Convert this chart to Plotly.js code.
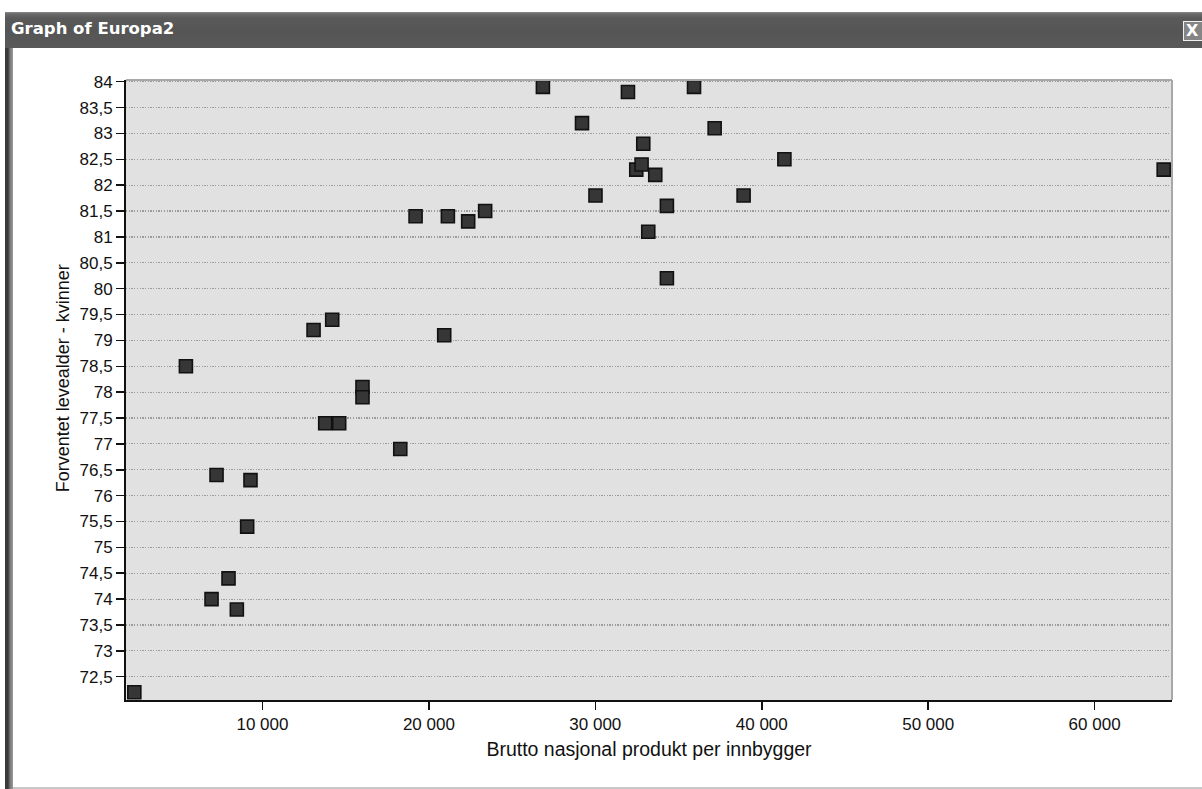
<!DOCTYPE html>
<html>
<head>
<meta charset="utf-8">
<script src="https://cdn.plot.ly/plotly-3.0.1.min.js"></script>
<style>
html,body{margin:0;padding:0;background:#fff;width:1202px;height:789px;overflow:hidden;}
#titlebar{position:absolute;left:5px;top:12px;width:1197px;height:36px;
  background:linear-gradient(#8a8a8a 0px,#6a6a6a 2px,#5a5a5a 6px,#555 50%,#595959 100%);}
#titletext{position:absolute;left:6px;top:7px;color:#fff;font-family:"DejaVu Sans";font-weight:bold;font-size:16.5px;}
#closebtn{position:absolute;left:1183px;top:21px;width:22px;height:18px;border:1.5px solid #f2f2f2;background:#858585;
  color:#fff;font-family:"DejaVu Sans";font-weight:bold;font-size:16px;line-height:18px;text-align:left;padding-left:2px;box-sizing:content-box;}
#leftborder{position:absolute;left:5px;top:48px;width:8px;height:741px;
  background:linear-gradient(90deg,#3a3a3a 0px,#3a3a3a 3px,#777 5px,#9a9a9a 8px);}
#bottomline{position:absolute;left:13px;top:787px;width:1189px;height:2px;background:#c8c8c8;}
#plot{position:absolute;left:0;top:0;width:1202px;height:789px;}
</style>
</head>
<body>
<div id="titlebar"><div id="titletext">Graph of Europa2</div></div>
<div id="closebtn">X</div>
<div id="leftborder"></div>
<div id="bottomline"></div>
<div id="plot"></div>
<script>
// GDP per capita (x) and female life expectancy (y)
const gdp = [2300, 5400, 7240, 6940, 7960, 8460, 9080, 9280, 13070, 14190, 13770, 14610,
  16010, 16010, 18280, 19200, 20920, 21140, 22360, 23380, 26850, 29200, 30010, 31960,
  32460, 32780, 32880, 33180, 33600, 34300, 34300, 35930, 37170, 38910, 41360, 64150];
const lifeExpWomen = [72.2, 78.5, 76.4, 74.0, 74.4, 73.8, 75.4, 76.3, 79.2, 79.4, 77.4, 77.4,
  78.1, 77.9, 76.9, 81.4, 79.1, 81.4, 81.3, 81.5, 83.9, 83.2, 81.8, 83.8,
  82.3, 82.4, 82.8, 81.1, 82.2, 81.6, 80.2, 83.9, 83.1, 81.8, 82.5, 82.3];
const xTickVals = [10000, 20000, 30000, 40000, 50000, 60000];
const yTickVals = [72.5, 73, 73.5, 74, 74.5, 75, 75.5, 76, 76.5, 77, 77.5, 78, 78.5, 79, 79.5,
  80, 80.5, 81, 81.5, 82, 82.5, 83, 83.5, 84];
const xTitle = "Brutto nasjonal produkt per innbygger";
const yTitle = "Forventet levealder - kvinner";

const trace = {
  x: gdp, y: lifeExpWomen, type: 'scatter', mode: 'markers', cliponaxis: false,
  marker: {symbol: 'square', size: 13, color: '#363636', line: {color: '#111', width: 1.6}},
  hoverinfo: 'x+y'
};
const font = {family: '"Liberation Sans", Arial, sans-serif', size: 17, color: '#111'};
const layout = {
  width: 1202, height: 789,
  margin: {l: 126, r: 30, t: 80, b: 89, pad: 0},
  paper_bgcolor: 'rgba(0,0,0,0)', plot_bgcolor: '#e1e1e1',
  separators: ', ',
  font: font,
  showlegend: false,
  xaxis: {
    range: [1800, 64650], tickvals: xTickVals, tickformat: ',d',
    showgrid: false, zeroline: false,
    showline: true, linecolor: '#111', linewidth: 2,
    ticks: 'outside', ticklen: 8, tickwidth: 1.5, tickcolor: '#111',
    tickfont: font,
    title: {text: xTitle, font: {family: font.family, size: 19.5, color: '#111'}, standoff: 9}
  },
  yaxis: {
    range: [72.05, 84.033], tickvals: yTickVals,
    showgrid: true, gridcolor: '#9c9c9c', gridwidth: 1.2, griddash: '1.3px,1.4px',
    zeroline: false,
    showline: true, linecolor: '#111', linewidth: 2,
    ticks: 'outside', ticklen: 8, tickwidth: 1.5, tickcolor: '#111',
    tickfont: font
  },
  annotations: [
    {text: yTitle, xref: 'paper', yref: 'paper', x: -0.0602, y: 0.519, textangle: -90,
     showarrow: false, xanchor: 'center', yanchor: 'middle',
     font: {family: font.family, size: 18, color: '#111'}}
  ],
  shapes: [
    {type: 'line', xref: 'paper', yref: 'paper', x0: 0, x1: 1, y0: 1, y1: 1, line: {color: '#a8a8a8', width: 2}},
    {type: 'line', xref: 'paper', yref: 'paper', x0: 1, x1: 1, y0: 0, y1: 1, line: {color: '#a8a8a8', width: 2}}
  ]
};
Plotly.newPlot('plot', [trace], layout, {displayModeBar: false, staticPlot: true});
</script>
</body>
</html>
